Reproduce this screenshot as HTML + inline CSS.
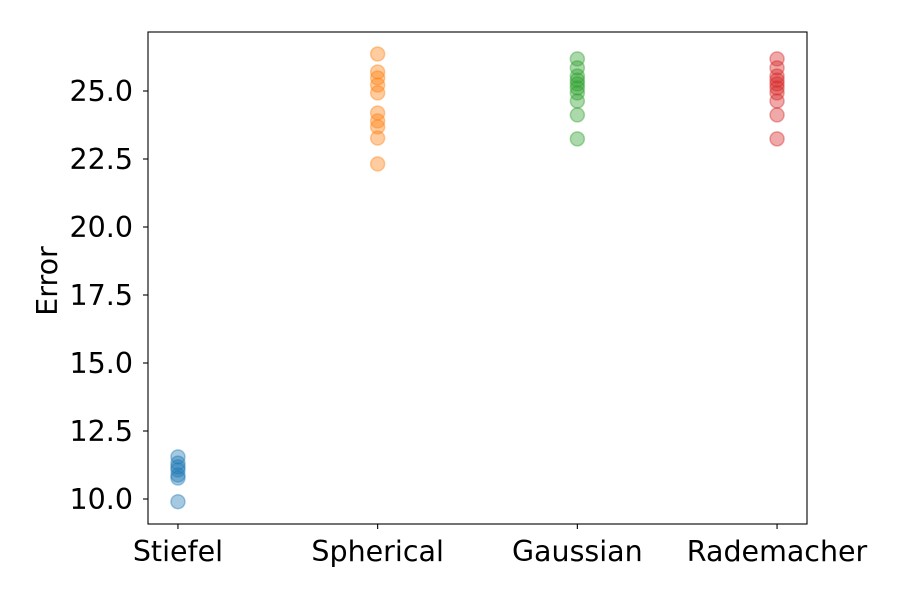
<!DOCTYPE html>
<html><head><meta charset="utf-8"><style>
body{margin:0;background:#fff}
svg text{font-family:"DejaVu Sans","Liberation Sans",sans-serif;fill:#000}
</style></head><body>
<svg id="c" width="900" height="600" xmlns="http://www.w3.org/2000/svg"></svg>
<script>
const categories=["Stiefel","Spherical","Gaussian","Rademacher"];
const stiefel=[11.55,11.32,11.18,11.07,10.88,10.77,9.9];
const spherical=[26.36,25.70,25.48,25.22,24.93,24.19,23.90,23.68,23.27,22.32];
const gaussian=[26.18,25.85,25.55,25.40,25.26,25.11,24.93,24.63,24.12,23.24];
const rademacher=[26.18,25.85,25.55,25.40,25.26,25.11,24.93,24.63,24.12,23.24];
const yTicks=[10.0,12.5,15.0,17.5,20.0,22.5,25.0];
const series=[stiefel,spherical,gaussian,rademacher];
const colors=["#1f77b4","#ff7f0e","#2ca02c","#d62728"];
const L=148,R=807,T=32,B=524;
const xmin=-0.15,xmax=3.15,ymin=9.081,ymax=27.169;
const xs=v=>L+(v-xmin)/(xmax-xmin)*(R-L);
const ys=v=>B-(v-ymin)/(ymax-ymin)*(B-T);
const svg=document.getElementById('c');
const NS="http://www.w3.org/2000/svg";
function mk(t,a,p){const e=document.createElementNS(NS,t);for(const k in a)e.setAttribute(k,a[k]);(p||svg).appendChild(e);return e;}
const frame=mk('rect',{x:L,y:T,width:R-L,height:B-T,fill:'none',stroke:'#000','stroke-width':1.1});


yTicks.forEach(v=>{
  const y=ys(v);
  const tk=mk('line',{x1:L-5,x2:L,y1:y,y2:y,stroke:'#000','stroke-width':1.1});
  
  
  const t=mk('text',{x:L-15,y:y+10,'text-anchor':'end','font-size':28.5});
  t.textContent=v.toFixed(1);
  
  
});
categories.forEach((c,i)=>{
  const x=xs(i);
  const tk=mk('line',{x1:x,x2:x,y1:B,y2:B+5,stroke:'#000','stroke-width':1.1});
  
  
  const t=mk('text',{x:x,y:B+37,'text-anchor':'middle','font-size':28.5});
  t.textContent=c;
  
  
});
const yt=mk('text',{x:0,y:0,'text-anchor':'middle','font-size':28.5,transform:`translate(57,${(T+B)/2+3}) rotate(-90)`});
yt.textContent='Error';


series.forEach((s,i)=>{
  s.forEach(v=>{
    const p=mk('circle',{cx:xs(i),cy:ys(v),r:7,fill:colors[i],'fill-opacity':0.4,stroke:colors[i],'stroke-opacity':0.4,'stroke-width':1.5});
    
    
  });
});
</script>
</body></html>
